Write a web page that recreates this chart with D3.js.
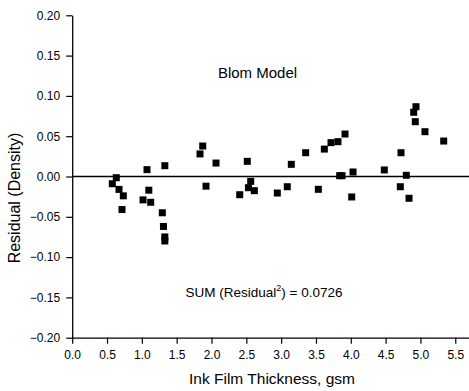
<!DOCTYPE html>
<html><head><meta charset="utf-8">
<script src="https://cdn.jsdelivr.net/npm/d3@7"></script>
<style>body{margin:0;background:#fff}svg{display:block}text{font-family:Arial,"Liberation Sans",sans-serif;fill:#000}</style>
</head><body>
<svg id="c" width="469" height="391"></svg>
<script>
const thickness = [0.576,0.633,0.672,0.734,0.715,1.074,1.10,1.017,1.127,1.33,1.294,1.31,1.33,1.33,
  1.874,1.835,2.065,1.921,2.514,2.563,2.53,2.615,2.405,2.945,3.088,3.146,3.352,3.534,3.62,3.716,
  3.816,3.917,3.84,3.875,4.013,4.032,4.481,4.721,4.711,4.797,4.836,4.936,4.903,4.926,5.065,5.334];
const residual = [-0.009,-0.0015,-0.016,-0.024,-0.041,0.0085,-0.017,-0.029,-0.032,0.0134,-0.045,-0.062,-0.075,-0.080,
  0.0378,0.028,0.0167,-0.012,0.0188,-0.006,-0.0139,-0.0176,-0.0226,-0.0205,-0.0127,0.0151,0.0295,-0.0159,0.034,0.042,
  0.0432,0.0527,0.001,0.001,-0.0254,0.0056,0.0081,0.0295,-0.0127,0.0015,-0.027,0.0866,0.0797,0.068,0.0556,0.044];
const xTicks = [0,0.5,1.0,1.5,2.0,2.5,3.0,3.5,4.0,4.5,5.0,5.5];
const yTicks = [-0.20,-0.15,-0.10,-0.05,0.00,0.05,0.10,0.15,0.20];
const title = "Blom Model";
const xTitle = "Ink Film Thickness, gsm";
const yTitle = "Residual (Density)";

const svg = d3.select("#c");
const x = d3.scaleLinear().domain([0,5.7]).range([72.2,469.2]);
const y = d3.scaleLinear().domain([-0.2,0.2]).range([337.7,15.3]);

const xMinor = d3.range(0.25,5.7,0.5);
const yMinor = d3.range(-0.175,0.2,0.05);
const gx = svg.append("g").attr("transform",`translate(0,${y(-0.2)})`);
gx.call(d3.axisBottom(x).tickValues(xMinor).tickSize(3.5).tickFormat(""));
gx.call(d3.axisBottom(x).tickValues(xTicks).tickSize(6).tickSizeOuter(0).tickPadding(7).tickFormat(d3.format(".1f")));
const gy = svg.append("g").attr("transform",`translate(${x(0)},0)`);
gy.call(d3.axisLeft(y).tickValues(yMinor).tickSize(3.5).tickFormat(""));
gy.call(d3.axisLeft(y).tickValues(yTicks).tickSize(6).tickSizeOuter(0).tickPadding(6).tickFormat(d3.format(".2f")));
svg.selectAll(".domain").attr("stroke","#000").attr("stroke-width",1.3);
svg.selectAll(".tick line").attr("stroke","#000").attr("stroke-width",1.2);
svg.selectAll(".tick text").attr("font-size",12).attr("font-family","Arial, 'Liberation Sans', sans-serif");

svg.append("line").attr("x1",x(0)).attr("x2",x(5.7)).attr("y1",y(0)).attr("y2",y(0))
  .attr("stroke","#000").attr("stroke-width",1.3);

const s = 7;
svg.append("g").selectAll("rect").data(thickness.map((d,i)=>[d,residual[i]])).join("rect")
  .attr("x",d=>x(d[0])-s/2).attr("y",d=>y(d[1])-s/2).attr("width",s).attr("height",s).attr("fill","#000");

svg.append("text").attr("x",257.5).attr("y",78).attr("text-anchor","middle").attr("font-size",15).text(title);
const t = svg.append("text").attr("x",264).attr("y",297).attr("text-anchor","middle").attr("font-size",13.5);
t.append("tspan").text("SUM (Residual");
t.append("tspan").attr("font-size",9).attr("dy",-6).text("2");
t.append("tspan").attr("dy",6).text(") = 0.0726");

svg.append("text").attr("x",272).attr("y",384).attr("text-anchor","middle").attr("font-size",15.5).text(xTitle);
svg.append("text").attr("transform","translate(20,198) rotate(-90)").attr("text-anchor","middle").attr("font-size",16).text(yTitle);
</script>
</body></html>
